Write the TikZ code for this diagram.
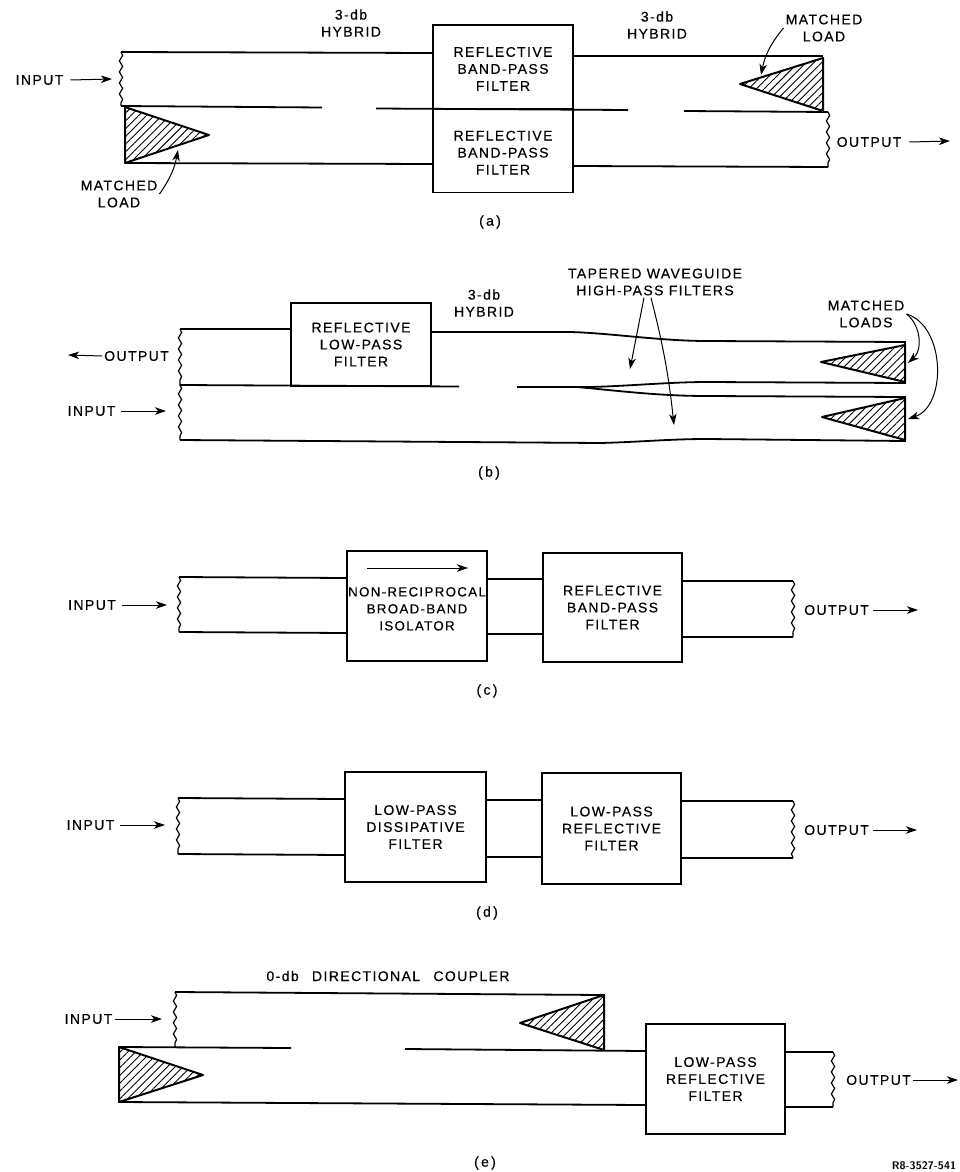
\documentclass[tikz,border=0pt]{standalone}
\usepackage{fontspec}
\usepackage{tikz}
\usetikzlibrary{arrows.meta,patterns.meta,decorations.pathmorphing}
\newfontfamily\letterfamily[LetterSpace=10,FakeBold=0.4]{Liberation Sans}
\newcommand{\letterfont}{\letterfamily\fontsize{14}{17}\selectfont}
\tikzset{
  filterbox/.style={draw=black,line width=1.8pt,minimum width=140pt,align=center,inner sep=0pt,font=\letterfont},
  tightbox/.style={filterbox,font=\letterfamily\fontsize{13.3}{17}\selectfont},
  textnote/.style={align=center,inner sep=2pt,font=\letterfont},
  wgwall/.style={line width=1.8pt,draw=black,line join=miter},
  wavyend/.style={line width=1.2pt,draw=black,decorate,decoration={snake,amplitude=1.6pt,segment length=11pt}},
  loadwedge/.style={line width=2pt,draw=black,line join=round,pattern={Lines[angle=45,distance=5.5pt,line width=0.9pt]}},
  portflow/.style={-{Stealth[length=11pt,width=7.5pt,inset=3pt]},line width=1pt,draw=black},
  calloutedge/.style={-{Stealth[length=11pt,width=7.5pt,inset=3pt]},line width=1pt,draw=black}
}
\begin{document}
\begin{tikzpicture}[x=1pt,y=-1pt]
  \useasboundingbox (0,0) rectangle (959,1172);
  % (a)
  \node[filterbox,minimum height=83.5pt] (fa1) at (503,66.8) {\\[-3pt]REFLECTIVE\\BAND-PASS\\FILTER};
  \node[filterbox,minimum height=84pt] (fa2) at (503,150.5) {\\[-3pt]REFLECTIVE\\BAND-PASS\\FILTER};
  \coordinate (a1) at (121,52);
  \coordinate (a2) at (121,106);
  \coordinate (a3) at (823,56);
  \coordinate (a4) at (828,112);
  \coordinate (a5) at (828,167);
  \draw[wavyend] (a1) -- (a2);
  \draw[wavyend] (a4) -- (a5);
  \draw[wgwall] (a1) -- (fa1.west |- 0,53);
  \draw[wgwall] (a2) -- (322,107.5);
  \draw[wgwall] (376,108.5) -- (628,110);
  \draw[wgwall] (684,111) -- (a4);
  \draw[wgwall] (125,163) -- (fa2.west |- 0,164);
  \draw[wgwall] (fa1.east |- 0,56) -- (a3);
  \draw[wgwall] (fa2.east |- 0,166) -- (a5);
  \draw[loadwedge] (125,107) -- (125,163) -- (209,135) -- cycle;
  \draw[loadwedge] (823,58) -- (823,111) -- (740,84) -- cycle;
  \node[textnote] (hya1) at (351,23) {3-db\\HYBRID};
  \node[textnote] (hya2) at (657,25) {3-db\\HYBRID};
  \node[textnote] (lda1) at (119,194) {MATCHED\\LOAD};
  \node[textnote] (lda2) at (824,28) {MATCHED\\LOAD};
  \coordinate (lda1e) at (178,150);
  \coordinate (lda2e) at (761,75);
  \draw[calloutedge] (lda1.east) to[bend right=12] (lda1e);
  \draw[calloutedge] (lda2.west) to[bend right=14] (lda2e);
  \node[textnote] (ina) at (39.5,80) {INPUT};
  \node[textnote] (outa) at (869,142) {OUTPUT};
  \coordinate (inae) at (112,79);
  \coordinate (outae) at (950,141);
  \draw[portflow] ([xshift=5pt]ina.east) -- (inae);
  \draw[portflow] ([xshift=6pt]outa.east) -- (outae);
  \node[textnote] (capa) at (490,222) {(\,a\,)};
  % (b)
  \node[filterbox,minimum height=83pt] (fb) at (361,344.5) {REFLECTIVE\\LOW-PASS\\FILTER};
  \coordinate (b1) at (180,329);
  \coordinate (b2) at (180,385);
  \coordinate (b3) at (180,440);
  \draw[wavyend] (b1) -- (b2);
  \draw[wavyend] (b2) -- (b3);
  \draw[wgwall] (b1) -- (fb.west |- 0,329);
  \draw[wgwall] (b2) -- (459,386.5);
  \draw[wgwall] (fb.east |- 0,332) -- (570,332) .. controls (610,333) and (660,341) .. (707,341) -- (905,342)
    -- (905,383) -- (707,382) .. controls (670,382) and (630,386) .. (590,387) -- (517,387);
  \draw[wgwall] (577,387) .. controls (620,391) and (660,396) .. (707,396) -- (905,397)
    -- (905,441) -- (707,439) .. controls (670,439) and (640,442) .. (600,443) -- (b3);
  \draw[loadwedge] (905,345) -- (905,382) -- (821,362) -- cycle;
  \draw[loadwedge] (905,398) -- (905,440) -- (822,417) -- cycle;
  \node[textnote] (hyb) at (484,303) {3-db\\HYBRID};
  \node[textnote] (tpb) at (655,282) {TAPERED WAVEGUIDE\\HIGH-PASS FILTERS};
  \node[textnote] (ldb) at (866,314) {MATCHED\\LOADS};
  \coordinate (tpb1) at (630,369);
  \coordinate (tpb2) at (674,425);
  \coordinate (ldb1) at (908,363);
  \coordinate (ldb2) at (908,419);
  \draw[calloutedge] ([xshift=-11pt]tpb.south) -- (tpb1);
  \draw[calloutedge] ([xshift=-4pt]tpb.south) to[bend left=4] (tpb2);
  \draw[calloutedge] (ldb.east) to[bend left=50] (ldb1);
  \draw[calloutedge] (ldb.east) to[bend left=72] (ldb2);
  \node[textnote] (outb) at (136.5,356) {OUTPUT};
  \node[textnote] (inb) at (91.5,411) {INPUT};
  \coordinate (outbe) at (68,355);
  \coordinate (inbe) at (166,411);
  \draw[portflow] (outb.west) -- (outbe);
  \draw[portflow] ([xshift=3pt]inb.east) -- (inbe);
  \node[textnote] (capb) at (489,473) {(\,b\,)};
  % (c)
  \node[tightbox,minimum height=110pt] (fc1) at (417,606) {\\[-2pt]NON-RECIPROCAL\\BROAD-BAND\\ISOLATOR};
  \node[filterbox,minimum height=109pt,minimum width=139pt] (fc2) at (612.5,607.5) {REFLECTIVE\\BAND-PASS\\FILTER};
  \coordinate (c1) at (179,577);
  \coordinate (c2) at (179,632);
  \coordinate (c3) at (793,581);
  \coordinate (c4) at (793,637);
  \coordinate (fc1a) at (367,568);
  \coordinate (fc1b) at (468,568);
  \draw[wavyend] (c1) -- (c2);
  \draw[wavyend] (c3) -- (c4);
  \draw[wgwall] (c1) -- (fc1.west |- 0,578);
  \draw[wgwall] (c2) -- (fc1.west |- 0,633);
  \draw[wgwall] (fc1.east |- 0,579) -- (fc2.west |- 0,579);
  \draw[wgwall] (fc1.east |- 0,634) -- (fc2.west |- 0,634);
  \draw[wgwall] (fc2.east |- 0,581) -- (c3);
  \draw[wgwall] (fc2.east |- 0,637) -- (c4);
  \draw[portflow] (fc1a) -- (fc1b);
  \node[textnote] (inc) at (92,605) {INPUT};
  \node[textnote] (outc) at (836.5,610) {OUTPUT};
  \coordinate (ince) at (167,605);
  \coordinate (outce) at (918,610);
  \draw[portflow] ([xshift=4pt]inc.east) -- (ince);
  \draw[portflow] ([xshift=2pt]outc.east) -- (outce);
  \node[textnote] (capc) at (487,691) {(\,c\,)};
  % (d)
  \node[filterbox,minimum height=110pt,minimum width=141pt] (fd1) at (415.5,827) {LOW-PASS\\DISSIPATIVE\\FILTER};
  \node[filterbox,minimum height=111pt,minimum width=139pt] (fd2) at (611.5,828.5) {LOW-PASS\\REFLECTIVE\\FILTER};
  \coordinate (d1) at (178,798);
  \coordinate (d2) at (178,854);
  \coordinate (d3) at (793,801);
  \coordinate (d4) at (793,858);
  \draw[wavyend] (d1) -- (d2);
  \draw[wavyend] (d3) -- (d4);
  \draw[wgwall] (d1) -- (fd1.west |- 0,799);
  \draw[wgwall] (d2) -- (fd1.west |- 0,855);
  \draw[wgwall] (fd1.east |- 0,800) -- (fd2.west |- 0,800);
  \draw[wgwall] (fd1.east |- 0,857) -- (fd2.west |- 0,857);
  \draw[wgwall] (fd2.east |- 0,801) -- (d3);
  \draw[wgwall] (fd2.east |- 0,858) -- (d4);
  \node[textnote] (ind) at (90.5,825) {INPUT};
  \node[textnote] (outd) at (836.5,830) {OUTPUT};
  \coordinate (inde) at (165,825);
  \coordinate (outde) at (917,830);
  \draw[portflow] ([xshift=3pt]ind.east) -- (inde);
  \draw[portflow] ([xshift=2pt]outd.east) -- (outde);
  \node[textnote] (capd) at (487,913) {(\,d\,)};
  % (e)
  \node[filterbox,minimum height=110pt,minimum width=139pt] (fe) at (715.5,1079) {LOW-PASS\\REFLECTIVE\\FILTER};
  \coordinate (e1) at (175,992);
  \coordinate (e2) at (175,1047);
  \coordinate (e3) at (604,995);
  \coordinate (e4) at (833,1052);
  \coordinate (e5) at (833,1107);
  \draw[wavyend] (e1) -- (e2);
  \draw[wavyend] (e4) -- (e5);
  \draw[wgwall] (e1) -- (e3);
  \draw[wgwall] (119,1047) -- (291,1048);
  \draw[wgwall] (405,1049) -- (fe.west |- 0,1051);
  \draw[wgwall] (119,1102) -- (fe.west |- 0,1105);
  \draw[wgwall] (fe.east |- 0,1052) -- (e4);
  \draw[wgwall] (fe.east |- 0,1107) -- (e5);
  \draw[loadwedge] (119,1047) -- (119,1102) -- (203,1075) -- cycle;
  \draw[loadwedge] (604,995) -- (604,1050) -- (520,1023) -- cycle;
  \node[textnote] (cpe) at (388,976) {0-db\hspace{8pt} DIRECTIONAL\hspace{8pt} COUPLER};
  \node[textnote] (ine) at (88.5,1019) {INPUT};
  \node[textnote] (oute) at (878.5,1080) {OUTPUT};
  \coordinate (inee) at (162,1019);
  \coordinate (outee) at (958,1080);
  \draw[portflow] (ine.east) -- (inee);
  \draw[portflow] (oute.east) -- (outee);
  \node[textnote] (cape) at (485,1163) {(\,e\,)};
  \node[textnote,font=\sffamily\bfseries\fontsize{11}{13}\selectfont] (tagno) at (924,1165.5) {R8-3527-541};
\end{tikzpicture}
\end{document}
